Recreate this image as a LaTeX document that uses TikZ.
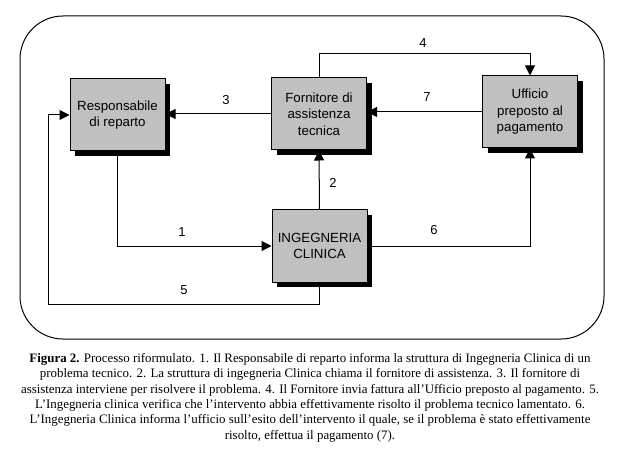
\documentclass[tikz,border=0pt]{standalone}
\usepackage{fontspec}
\setmainfont{Liberation Serif}
\newfontfamily\arialf{Liberation Sans}
\usetikzlibrary{arrows.meta,shadows}
\definecolor{boxgray}{HTML}{C0C0C0}
\begin{document}
\begin{tikzpicture}[x=1pt,y=-1pt,
  box/.style={draw=black, fill=boxgray, line width=1pt,
    minimum width=95pt, minimum height=72pt, inner sep=0pt, align=center,
    font=\arialf\fontsize{13.3}{16.5}\selectfont,
    drop shadow={shadow xshift=5pt, shadow yshift=-5pt, fill=black, opacity=1}},
  conn/.style={line width=1pt, -{Triangle[length=10pt,width=10pt]}},
  num/.style={font=\arialf\fontsize{13}{15}\selectfont, inner sep=0pt},
  caption/.style={font=\fontsize{12.9}{15.4}\selectfont, align=center, inner sep=0pt}]
\useasboundingbox (0,0) rectangle (628,454);
\draw[line width=1pt, rounded corners=43pt] (20,16) rectangle (604,339);

\node[box] (R) at (117.5,115) {Responsabile\\di reparto};
\node[box] (F) at (319,114) {Fornitore di\\assistenza\\tecnica};
\node[box] (U) at (530,112) {Ufficio\\preposto al\\pagamento};
\node[box] (I) at (319.5,246) {INGEGNERIA\\CLINICA};

\coordinate (c4) at (319,54);
\coordinate (c5) at (48,304);

\draw[conn] (R.south) |- (I.west);
\draw[conn] (F.west) -- (F.west -| R.east);
\draw[conn] (F.north) -- (c4) -| (U.north);
\draw[conn] (U.west) -- (U.west -| F.east);
\draw[conn] (I.north) -- (F.south);
\draw[conn] (I.east) -| (U.south);
\draw[conn] (I.south) |- (c5) |- (R.west);

\node[num] (n1) at (182,232) {1};
\node[num] (n2) at (333,183) {2};
\node[num] (n3) at (226,100) {3};
\node[num] (n4) at (423,43) {4};
\node[num] (n5) at (184,290) {5};
\node[num] (n6) at (434,230) {6};
\node[num] (n7) at (427,97) {7};

\node[caption, anchor=north] (cap) at (310,353) {\textbf{Figura 2.} Processo riformulato. 1. Il Responsabile di reparto informa la struttura di Ingegneria Clinica di un\\
problema tecnico. 2. La struttura di ingegneria Clinica chiama il fornitore di assistenza. 3. Il fornitore di\\
assistenza interviene per risolvere il problema. 4. Il Fornitore invia fattura all’Ufficio preposto al pagamento. 5.\\
L’Ingegneria clinica verifica che l’intervento abbia effettivamente risolto il problema tecnico lamentato. 6.\\
L’Ingegneria Clinica informa l’ufficio sull’esito dell’intervento il quale, se il problema è stato effettivamente\\
risolto, effettua il pagamento (7).};
\end{tikzpicture}
\end{document}
